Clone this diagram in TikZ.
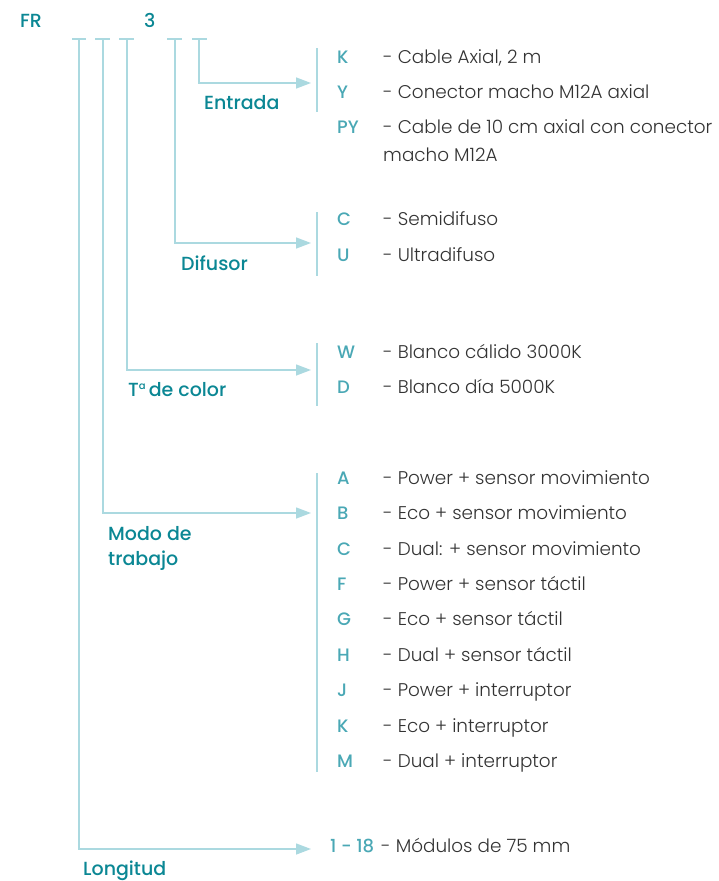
\documentclass[tikz,border=0pt]{standalone}
\usepackage{fontspec}
\setmainfont{Poppins}[UprightFont={* Light},BoldFont={* Medium}]
\usetikzlibrary{arrows.meta}
\definecolor{lbl}{HTML}{0B8794}
\definecolor{code}{HTML}{4AA8B5}
\definecolor{lin}{HTML}{ABD9E0}
\definecolor{txt}{HTML}{333333}
\tikzset{
  lbl/.style={anchor=base west,inner sep=0pt,text=lbl,font=\fontsize{19}{20}\selectfont\bfseries},
  code/.style={anchor=base west,inner sep=0pt,text=code,font=\fontsize{18}{20}\selectfont\bfseries},
  opt/.style={anchor=base west,inner sep=0pt,text=txt,font=\fontsize{18.4}{20}\selectfont},
  ln/.style={draw=lin,line width=1.4pt},
  arr/.style={ln,-{Triangle[length=15pt,width=11pt]}},
}
\begin{document}
\begin{tikzpicture}[x=1pt,y=-1pt]
\useasboundingbox (0,0) rectangle (719,881);
% header
\node[lbl] (fr) at (20,27) {FR};
\node[lbl] (three) at (144,27) {3};
% dashes
\foreach \a/\b in {72/86,95/110,119/134,167/182,192/207}{
  \draw[ln] (\a,39) -- (\b,39);
}
\coordinate (t1) at (79,39);
\coordinate (t2) at (103,39);
\coordinate (t3) at (127,39);
\coordinate (t4) at (175,39);
\coordinate (t5) at (199,39);
% arrow ends
\coordinate (e5) at (311,83);
\coordinate (e4) at (311,243);
\coordinate (e3) at (311,370);
\coordinate (e2) at (311,513);
\coordinate (e1) at (311,849);
\draw[arr] (t5) |- (e5);
\draw[arr] (t4) |- (e4);
\draw[arr] (t3) |- (e3);
\draw[arr] (t2) |- (e2);
\draw[arr] (t1) |- (e1);
% bars
\draw[ln] (317,48) -- (317,112);
\draw[ln] (317,212) -- (317,276);
\draw[ln] (317,343) -- (317,406);
\draw[ln] (317,473) -- (317,772);
% group labels
\node[lbl] (entrada) at (204,109.5) {Entrada};
\node[lbl] (difusor) at (181,270.5) {Difusor};
\node[lbl] (color) at (128,396.5) {T\raisebox{0.35em}{\fontsize{10}{10}\selectfont a}\,de color};
\node[lbl] (modo1) at (108,540.5) {Modo de};
\node[lbl] (modo2) at (108,565.5) {trabajo};
\node[lbl] (long) at (83,875.5) {Longitud};
% options
\foreach \y/\c/\t [count=\i] in {
  57/K/{- Cable Axial, 2 m},
  92/Y/{- Conector macho M12A axial},
  127/PY/{- Cable de 10 cm axial con conector},
  219/C/{- Semidifuso},
  255/U/{- Ultradifuso},
  352/W/{- Blanco cálido 3000K},
  387/D/{- Blanco día 5000K},
  478/A/{- Power + sensor movimiento},
  513/B/{- Eco + sensor movimiento},
  549/C/{- Dual: + sensor movimiento},
  584/F/{- Power + sensor táctil},
  619/G/{- Eco + sensor táctil},
  655/H/{- Dual + sensor táctil},
  690/J/{- Power + interruptor},
  726/K/{- Eco + interruptor},
  761/M/{- Dual + interruptor}}{
  \node[code] (c\i) at (337,\y+6.5) {\c};
  \node[opt] (o\i) at (383,\y+6.5) {\t};
}
\node[opt] (o3b) at (383,161.5) {macho M12A};
\node[code] (c17) at (330,852.5) {1 - 18};
\node[opt] (o17) at (381,852.5) {- Módulos de 75 mm};
\end{tikzpicture}
\end{document}
